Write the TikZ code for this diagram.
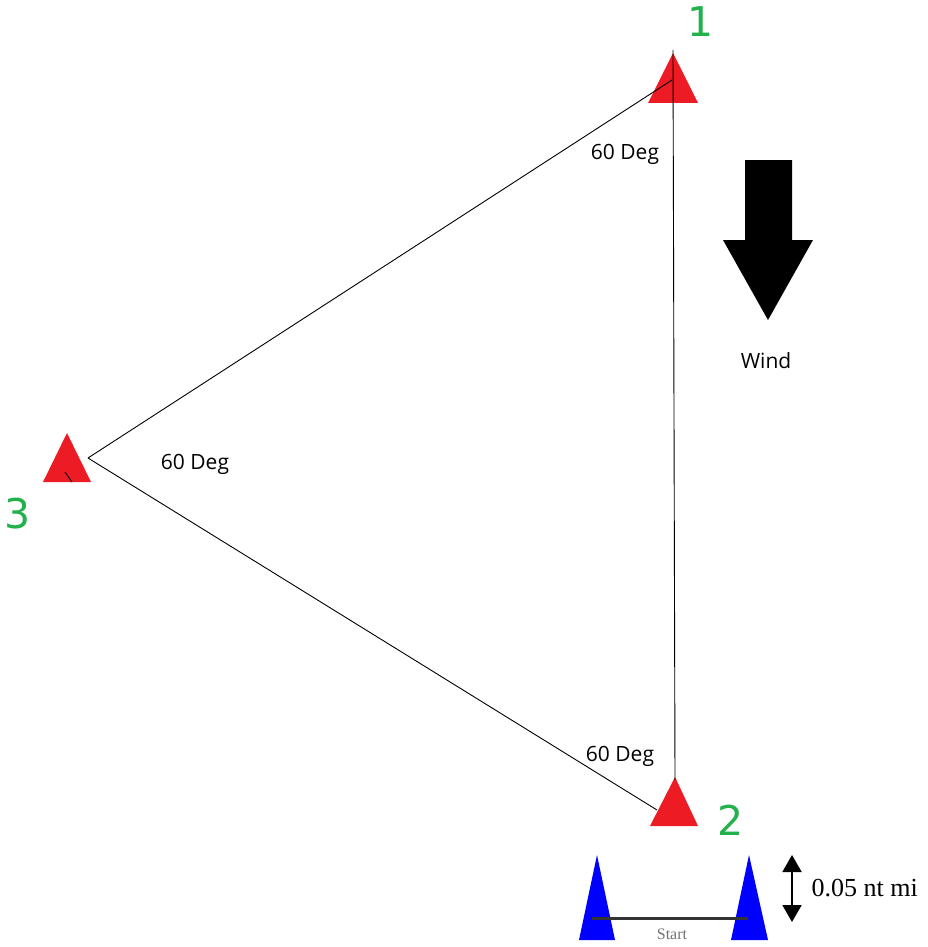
\documentclass[tikz,border=0pt]{standalone}
\usepackage{fontspec}
\setmainfont{Open Sans}
\newfontfamily\timesfont{Liberation Serif}
\newfontfamily\numfont{DejaVu Sans}
\usepackage{xcolor}
\usetikzlibrary{arrows.meta}

\definecolor{markred}{HTML}{ED1C24}
\definecolor{markgreen}{HTML}{22B14C}
\definecolor{markblue}{HTML}{0000FF}

\tikzset{
  leg/.style={line width=0.9pt, black},
  degtxt/.style={font=\fontsize{21}{24}\selectfont},
  marknum/.style={text=markgreen, font=\numfont\fontsize{41}{46}\selectfont},
}

\begin{document}
\begin{tikzpicture}[x=1pt,y=-1pt]
  \useasboundingbox (0,0) rectangle (927,947);

  % course marks
  \fill[markred] (673,53) -- (698,103) -- (648,103) -- cycle;
  \fill[markred] (675,777) -- (698,826) -- (650,826) -- cycle;
  \fill[markred] (67,433) -- (91,482) -- (43,482) -- cycle;

  \coordinate (m1top) at (673,50);
  \coordinate (m1) at (672,80);
  \coordinate (m2) at (675,780);
  \coordinate (m2in) at (657,810);
  \coordinate (m3) at (88,458);

  \draw[leg] (m1top) -- (m2);
  \draw[leg] (m1) -- (m3);
  \draw[leg] (m3) -- (m2in);
  \draw[leg] (65,472) -- (72,482);

  \node[marknum] (n1) at (701,22) {1};
  \node[marknum] (n2) at (731,820) {2};
  \node[marknum] (n3) at (18,514) {3};

  \node[degtxt] (d1) at (625,154) {60 Deg};
  \node[degtxt] (d3) at (195,464) {60 Deg};
  \node[degtxt] (d2) at (620,756) {60 Deg};

  % wind
  \fill (745,160) -- (792,160) -- (792,240) -- (813,240) -- (768,320)
    -- (723,240) -- (745,240) -- cycle;
  \node[degtxt] (wind) at (766,361) {Wind};

  % start line
  \fill[markblue] (597,855) -- (615,940) -- (579,940) -- cycle;
  \fill[markblue] (749,855) -- (768,940) -- (731,940) -- cycle;
  \coordinate (s1) at (592,918);
  \coordinate (s2) at (748,918);
  \draw[line width=3pt, black!80] (s1) -- (s2);
  \node[text=black!55, font=\timesfont\fontsize{16}{18}\selectfont] (start) at (672,934) {Start};

  \coordinate (gtop) at (792,855);
  \coordinate (gbot) at (792,922);
  \draw[line width=2pt, {Triangle[width=19pt,length=17pt]}-{Triangle[width=19pt,length=17pt]}] (gtop) -- (gbot);
  \node[anchor=west, font=\timesfont\fontsize{26}{30}\selectfont] (dist) at (808,888) {0.05 nt mi};
\end{tikzpicture}
\end{document}
